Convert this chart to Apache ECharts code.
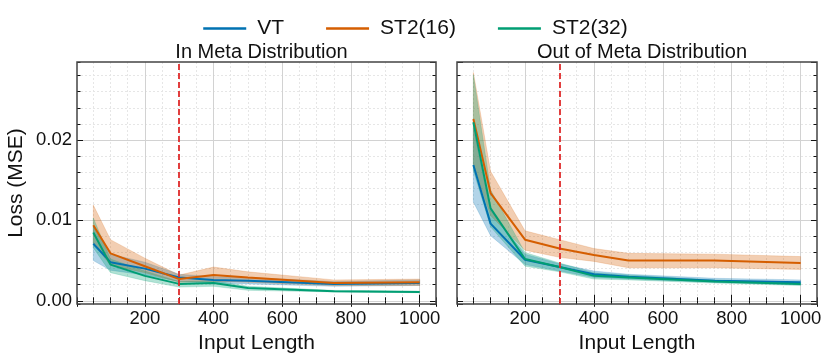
<!DOCTYPE html>
<html lang="en">
<head>
    <meta charset="UTF-8">
    <title>Loss vs input length</title>
    <script src="https://cdn.jsdelivr.net/npm/echarts@6.0.0/dist/echarts.min.js"></script>
    <style>
        html, body { margin: 0; padding: 0; background: #fff; }
        #main { width: 831px; height: 361px; }
    </style>
</head>
<body>
<div id="main"></div>
<script>
    // input lengths
    var lengths = [50, 100, 200, 300, 400, 500, 750, 1000];
    var methods = ['VT', 'ST2(16)', 'ST2(32)'];
    var colors = ['#0072B2', '#D55E00', '#009E73'];
    var panelTitles = ['In Meta Distribution', 'Out of Meta Distribution'];
    var splitLength = 300;

    // In Meta Distribution
    var inVT = [0.0071, 0.0048, 0.0040, 0.0029, 0.0026, 0.0025, 0.0021, 0.0022];
    var inVTLow = [0.0050, 0.0038, 0.0032, 0.0024, 0.0022, 0.0021, 0.0018, 0.0019];
    var inVTHigh = [0.0092, 0.0058, 0.0048, 0.0033, 0.0030, 0.0029, 0.0024, 0.0026];
    var inS16 = [0.0094, 0.0059, 0.0043, 0.0027, 0.0032, 0.0029, 0.0022, 0.0023];
    var inS16Low = [0.0072, 0.0044, 0.0035, 0.0023, 0.0024, 0.0023, 0.0019, 0.0019];
    var inS16High = [0.0119, 0.0076, 0.0053, 0.0032, 0.0042, 0.0036, 0.0026, 0.0027];
    var inS32 = [0.0085, 0.0045, 0.0031, 0.0021, 0.0022, 0.0016, 0.0012, 0.0011];
    var inS32Low = [0.0066, 0.0035, 0.0025, 0.0017, 0.0018, 0.0013, 0.0011, 0.0010];
    var inS32High = [0.0103, 0.0052, 0.0037, 0.0024, 0.0025, 0.0018, 0.0013, 0.0012];

    // Out of Meta Distribution
    var outVT = [0.0169, 0.0096, 0.0051, 0.0042, 0.0033, 0.0030, 0.0025, 0.0023];
    var outVTLow = [0.0123, 0.0081, 0.0045, 0.0037, 0.0029, 0.0027, 0.0023, 0.0020];
    var outVTHigh = [0.0215, 0.0112, 0.0058, 0.0046, 0.0037, 0.0033, 0.0028, 0.0026];
    var outS16 = [0.0226, 0.0134, 0.0076, 0.0065, 0.0057, 0.0050, 0.0050, 0.0047];
    var outS16Low = [0.0170, 0.0106, 0.0063, 0.0054, 0.0049, 0.0041, 0.0041, 0.0039];
    var outS16High = [0.0284, 0.0161, 0.0087, 0.0076, 0.0065, 0.0059, 0.0058, 0.0055];
    var outS32 = [0.0222, 0.0115, 0.0052, 0.0042, 0.0031, 0.0029, 0.0024, 0.0021];
    var outS32Low = [0.0162, 0.0092, 0.0043, 0.0036, 0.0027, 0.0026, 0.0022, 0.0019];
    var outS32High = [0.0281, 0.0138, 0.0060, 0.0047, 0.0035, 0.0032, 0.0026, 0.0023];

    var panels = [
        {mean: [inVT, inS16, inS32], low: [inVTLow, inS16Low, inS32Low], high: [inVTHigh, inS16High, inS32High]},
        {mean: [outVT, outS16, outS32], low: [outVTLow, outS16Low, outS32Low], high: [outVTHigh, outS16High, outS32High]}
    ];

    var font = "'Liberation Sans', Arial, sans-serif";
    var xMin = 2.5, xMax = 1047.5, yMin = -0.0004, yMax = 0.0297;
    var grids = [
        {left: 77, top: 62, width: 359, height: 242},
        {left: 457, top: 62, width: 360, height: 242}
    ];

    function pairs(ys) {
        return lengths.map(function (x, i) { return [x, ys[i]]; });
    }

    var xAxes = [], yAxes = [], series = [], titles = [];
    var majorGrid = {color: '#d2d2d2', width: 1};
    var minorGrid = {color: '#e6e6e6', width: 1, type: [2, 2]};

    function addAxes(g) {
        // minor axes first (dashed grid + short ticks), then major ones
        [['bottom', 20, 3.5, true], ['top', 20, 3.5, false], ['bottom', 5, 6, true], ['top', 5, 6, false]].forEach(function (a) {
            var major = a[1] === 5;
            xAxes.push({
                gridIndex: g, type: 'value', min: xMin, max: xMax, splitNumber: a[1], position: a[0],
                axisLine: {show: false},
                axisTick: {show: true, inside: true, length: a[2], lineStyle: {color: '#111', width: 1}},
                axisLabel: {
                    show: major && a[0] === 'bottom', fontSize: 18.5, color: '#111', fontFamily: font, margin: 5,
                    showMinLabel: false, showMaxLabel: false,
                    formatter: function (v) { return String(v); }
                },
                splitLine: {
                    show: a[3], showMinLine: false, showMaxLine: false,
                    lineStyle: major ? majorGrid : minorGrid
                },
                name: major && a[0] === 'bottom' ? 'Input Length' : '',
                nameLocation: 'middle', nameGap: 21,
                nameTextStyle: {fontSize: 21, color: '#111', fontFamily: font}
            });
        });
        [['left', 15, 3.5, true], ['right', 15, 3.5, false], ['left', 3, 6, true], ['right', 3, 6, false]].forEach(function (a) {
            var major = a[1] === 3;
            var labelled = major && a[0] === 'left' && g === 0;
            yAxes.push({
                gridIndex: g, type: 'value', min: yMin, max: yMax, splitNumber: a[1], position: a[0],
                axisLine: {show: false},
                axisTick: {show: true, inside: true, length: a[2], lineStyle: {color: '#111', width: 1}},
                axisLabel: {
                    show: labelled, fontSize: 18.5, color: '#111', fontFamily: font, margin: 5,
                    showMinLabel: false, showMaxLabel: false,
                    formatter: function (v) { return v.toFixed(2); }
                },
                splitLine: {
                    show: a[3], showMinLine: false, showMaxLine: false,
                    lineStyle: major ? majorGrid : minorGrid
                },
                name: labelled ? 'Loss (MSE)' : '',
                nameLocation: 'middle', nameGap: 50,
                nameTextStyle: {fontSize: 21, color: '#111', fontFamily: font}
            });
        });
    }

    // band between low and high, drawn as one polygon through the axes
    function bandSeries(g, low, high, color) {
        return {
            type: 'custom', xAxisIndex: g * 4 + 2, yAxisIndex: g * 4 + 2, silent: true, z: 2,
            data: lengths.map(function (x, i) { return [x, low[i], high[i]]; }),
            encode: {x: 0, y: [1, 2]},
            renderItem: function (params, api) {
                if (params.dataIndex !== 0) return;
                var top = lengths.map(function (x, i) { return api.coord([x, high[i]]); });
                var bottom = lengths.map(function (x, i) { return api.coord([x, low[i]]); }).reverse();
                return {
                    type: 'polygon',
                    shape: {points: top.concat(bottom)},
                    style: {fill: color, opacity: 0.3, stroke: color, lineWidth: 0.6}
                };
            }
        };
    }

    panels.forEach(function (p, g) {
        addAxes(g);
        var xi = g * 4 + 2, yi = g * 4 + 2;
        titles.push({
            text: panelTitles[g], left: grids[g].left + grids[g].width / 2, top: 37, textAlign: 'center',
            textStyle: {fontSize: 20, fontWeight: 'normal', color: '#111', fontFamily: font}
        });
        methods.forEach(function (m, k) {
            series.push(bandSeries(g, p.low[k], p.high[k], colors[k]));
        });
        methods.forEach(function (m, k) {
            var s = {
                type: 'line', name: m, xAxisIndex: xi, yAxisIndex: yi, data: pairs(p.mean[k]),
                symbol: 'none', color: colors[k], lineStyle: {color: colors[k], width: 2}, z: 3
            };
            if (k === 0) {
                s.markLine = {
                    silent: true, symbol: 'none', label: {show: false},
                    lineStyle: {color: '#df2b2b', width: 1.8, type: [6, 3]},
                    data: [{xAxis: splitLength}]
                };
            }
            series.push(s);
        });
    });

    var option = {
        animation: false,
        backgroundColor: '#fff',
        title: titles,
        legend: {
            data: methods, top: 13, left: 'center', icon: 'rect', itemWidth: 43, itemHeight: 2.5, itemGap: 42,
            textStyle: {fontSize: 21, color: '#111', fontFamily: font, padding: [0, 0, 0, 6]}
        },
        grid: grids.map(function (g) {
            return {left: g.left, top: g.top, width: g.width, height: g.height, show: true, z: 5,
                borderColor: '#444', borderWidth: 1.5, backgroundColor: 'transparent'};
        }),
        xAxis: xAxes,
        yAxis: yAxes,
        series: series
    };

    var myChart = echarts.init(document.getElementById('main'));
    myChart.setOption(option);
</script>
</body>
</html>
